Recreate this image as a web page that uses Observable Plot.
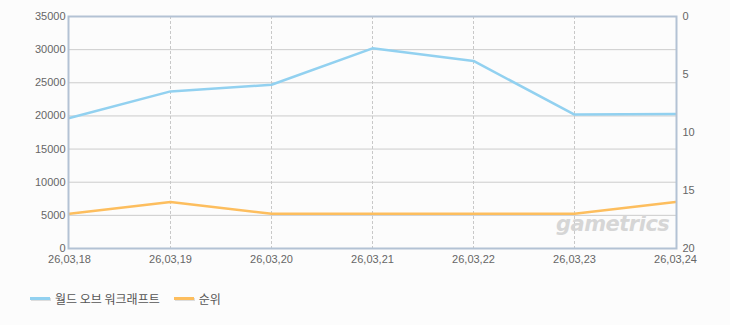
<!DOCTYPE html>
<html>
<head>
<meta charset="utf-8">
<script src="https://cdn.jsdelivr.net/npm/d3@7"></script>
<script src="https://cdn.jsdelivr.net/npm/@observablehq/plot@0.6"></script>
<style>
  html, body { margin: 0; padding: 0; background: #fcfcfc; }
  #wrap { position: relative; width: 730px; height: 325px; font-family: "Liberation Sans", Arial, sans-serif; }
  #legend { position: absolute; left: 30px; top: 290px; display: flex; align-items: center; font-family: "Noto Sans CJK KR", sans-serif; font-size: 12px; color: #555; }
  .item { display: flex; align-items: center; margin-right: 14px; }
  .sw { width: 20px; height: 3px; margin-right: 5px; box-shadow: 1px 1px 0 #ddd; }
  #wm { position: absolute; left: 556px; top: 212px; font-family: "DejaVu Sans", sans-serif; font-weight: bold; font-style: italic; font-size: 21px; color: #d6d6d6; letter-spacing: -0.5px; }
</style>
</head>
<body>
<div id="wrap">
  <div id="chart"></div>
  <div id="wm">gametrics</div>
  <div id="legend"></div>
</div>
<script>
const dates = ["26,03,18", "26,03,19", "26,03,20", "26,03,21", "26,03,22", "26,03,23", "26,03,24"];
const players = [19700, 23700, 24700, 30200, 28300, 20200, 20300];
const ranks = [17, 16, 17, 17, 17, 17, 16];
const leftTicks = [0, 5000, 10000, 15000, 20000, 25000, 30000, 35000];
const rightTicks = [0, 5, 10, 15, 20];
const seriesNames = ["월드 오브 워크래프트", "순위"];
const colors = ["#92d1f0", "#fdbe5e"];

const yMax = 35000, rankMax = 20;
const rankToY = r => yMax * (1 - r / rankMax);

const playerData = dates.map((d, i) => ({date: d, v: players[i]}));
const rankData = dates.map((d, i) => ({date: d, v: rankToY(ranks[i])}));
const bands = leftTicks.slice(0, -1).map((t, i) => ({y1: t, y2: leftTicks[i + 1], shade: i % 2 === 0}));

const chart = Plot.plot({
  width: 730,
  height: 270,
  marginLeft: 68,
  marginRight: 54,
  marginTop: 16,
  marginBottom: 22,
  style: {background: "transparent", fontFamily: "Liberation Sans, Arial, sans-serif", fontSize: "11px", color: "#666"},
  x: {type: "point", domain: dates, padding: 0},
  y: {domain: [0, yMax]},
  marks: [
    Plot.rect(bands, {x1: dates[0], x2: dates[dates.length - 1], y1: "y1", y2: "y2", fill: d => d.shade ? "#fafafa" : "#ffffff"}),
    Plot.ruleY(leftTicks, {stroke: "#cccccc", strokeWidth: 1}),
    Plot.ruleX(dates.slice(1, -1), {stroke: "#c8c8c8", strokeDasharray: "3,2", strokeWidth: 1}),
    Plot.axisY({ticks: leftTicks, tickFormat: d3.format("d"), tickSize: 0, tickPadding: 3, label: null, fill: "#666", fontSize: 11}),
    Plot.axisY({anchor: "right", ticks: rightTicks.map(rankToY), tickFormat: v => String(Math.round(rankMax * (1 - v / yMax))), tickSize: 0, tickPadding: 6, label: null, fill: "#666", fontSize: 11}),
    Plot.axisX({ticks: dates, tickSize: 0, tickPadding: 7, label: null, fill: "#666", fontSize: 11}),
    Plot.line(playerData, {x: "date", y: "v", stroke: colors[0], strokeWidth: 2.5}),
    Plot.line(rankData, {x: "date", y: "v", stroke: colors[1], strokeWidth: 2.5}),
    Plot.frame({stroke: "#b3c2d4", strokeWidth: 2})
  ]
});
document.getElementById("chart").appendChild(chart);

const legend = document.getElementById("legend");
seriesNames.forEach((name, i) => {
  const item = document.createElement("div");
  item.className = "item";
  const sw = document.createElement("div");
  sw.className = "sw";
  sw.style.background = colors[i];
  const label = document.createElement("span");
  label.textContent = name;
  item.appendChild(sw);
  item.appendChild(label);
  legend.appendChild(item);
});
</script>
</body>
</html>
